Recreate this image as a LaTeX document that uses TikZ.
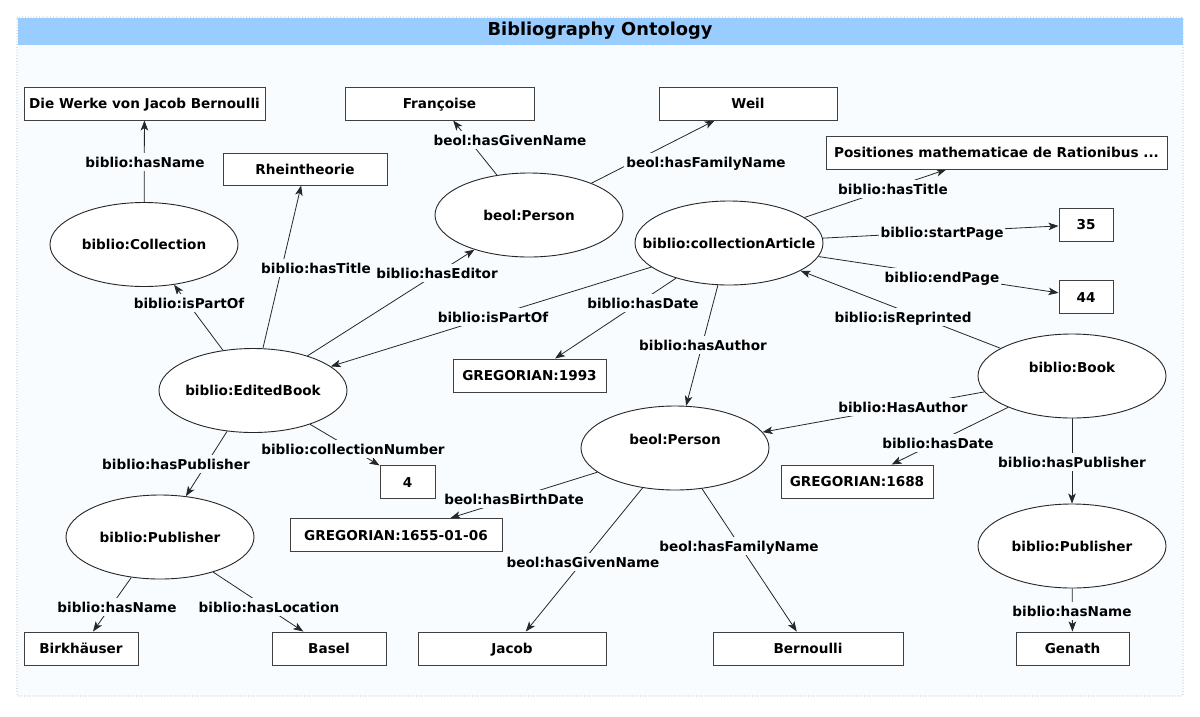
\documentclass[tikz,border=0pt]{standalone}
\usepackage{fontspec}
\setmainfont{DejaVu Sans}
\usepackage{tikz}
\usetikzlibrary{shapes.geometric,arrows.meta}
\pgfdeclarelayer{framelayer}
\pgfdeclarelayer{edgelayer}
\pgfdeclarelayer{nodelayer}
\pgfsetlayers{framelayer,edgelayer,nodelayer,main}
\definecolor{canvas}{RGB}{248,252,255}
\definecolor{titlebar}{RGB}{153,204,255}
\definecolor{wire}{RGB}{38,38,38}
\newcommand{\ontofont}{\bfseries\fontsize{13.6}{16}\selectfont}
\tikzstyle{concept}=[ellipse, draw=black!85, fill=white, line width=0.9pt, minimum width=188pt, minimum height=84pt, inner xsep=-45pt, inner ysep=0pt, text height=10pt, text depth=0pt, font=\ontofont]
\tikzstyle{raised}=[text depth=17pt]
\tikzstyle{literal}=[rectangle, draw=black!75, fill=white, line width=1pt, minimum height=33pt, inner sep=0pt, text height=10pt, text depth=0pt, font=\ontofont]
\tikzstyle{tag}=[fill=canvas, inner xsep=2pt, inner ysep=4pt, text height=10pt, text depth=0pt, font=\ontofont]
\tikzstyle{arrow}=[draw=wire, line width=0.8pt, -{Stealth[length=10pt,width=7.5pt,inset=2.5pt]}]

\begin{document}
\begin{tikzpicture}[x=1pt, y=-1pt]
            \useasboundingbox (0, 0) rectangle (1200, 716);
            \begin{pgfonlayer}{framelayer}
                \fill [white] (0, 0) rectangle (1200, 716);
                \filldraw [fill=canvas, draw=gray!70, line width=0.8pt, dotted, rounded corners=2pt] (17, 17) rectangle (1183, 696);
                \fill [titlebar] (17.5, 17.5) rectangle (1182.5, 45);
                \node [font=\bfseries\fontsize{17.8}{20}\selectfont] (Heading) at (600, 31) {Bibliography Ontology};
            \end{pgfonlayer}
            \begin{pgfonlayer}{nodelayer}
                \node [style=concept] (Coll) at (144, 244.5) {biblio:Collection};
                \node [style=concept] (Editor) at (529, 215) {beol:Person};
                \node [style=concept] (Article) at (729, 243) {biblio:collectionArticle};
                \node [style=concept] (Edited) at (253, 390.5) {biblio:EditedBook};
                \node [style=concept, raised] (Author) at (675, 448) {beol:Person};
                \node [style=concept, raised] (Book) at (1072, 376) {biblio:Book};
                \node [style=concept] (Pub1) at (160, 537) {biblio:Publisher};
                \node [style=concept] (Pub2) at (1072, 546) {biblio:Publisher};

                \node [style=literal, minimum width=241pt] (Werke) at (144.5, 103.5) {Die Werke von Jacob Bernoulli};
                \node [style=literal, minimum width=189pt] (Francoise) at (439.5, 103.5) {Françoise};
                \node [style=literal, minimum width=178pt] (Weil) at (748, 103.5) {Weil};
                \node [style=literal, minimum width=164pt, minimum height=32pt] (Rhein) at (305, 169) {Rheintheorie};
                \node [style=literal, minimum width=341pt] (Positiones) at (996.5, 152.5) {Positiones mathematicae de Rationibus ...};
                \node [style=literal, minimum width=54pt] (P35) at (1086, 224.5) {35};
                \node [style=literal, minimum width=54pt] (P44) at (1086, 297) {44};
                \node [style=literal, minimum width=153pt] (D1993) at (529.5, 375.5) {GREGORIAN:1993};
                \node [style=literal, minimum width=55pt] (Num4) at (407.5, 482) {4};
                \node [style=literal, minimum width=152pt] (D1688) at (857, 481.5) {GREGORIAN:1688};
                \node [style=literal, minimum width=212pt] (D1655) at (396, 535) {GREGORIAN:1655-01-06};
                \node [style=literal, minimum width=114pt] (Birk) at (81, 648.5) {Birkhäuser};
                \node [style=literal, minimum width=114pt] (Basel) at (329, 648.5) {Basel};
                \node [style=literal, minimum width=188pt] (Jacob) at (512, 648.5) {Jacob};
                \node [style=literal, minimum width=190pt] (Bern) at (808, 648.5) {Bernoulli};
                \node [style=literal, minimum width=113pt] (Genath) at (1072.5, 648.5) {Genath};
            \end{pgfonlayer}
            \begin{pgfonlayer}{edgelayer}
                \draw [style=arrow] (Coll) to (Werke) node [style=tag] at (145, 162) {biblio:hasName};
                \draw [style=arrow] (Edited) to (Coll) node [style=tag] at (189, 303) {biblio:isPartOf};
                \draw [style=arrow] (Edited) to (Rhein) node [style=tag] at (316, 268) {biblio:hasTitle};
                \draw [style=arrow] (Edited) to (Editor) node [style=tag] at (437, 273) {biblio:hasEditor};
                \draw [style=arrow] (Editor) to (Francoise) node [style=tag] at (510, 140) {beol:hasGivenName};
                \draw [style=arrow] (Editor) to (Weil) node [style=tag] at (706, 162) {beol:hasFamilyName};

                \draw [style=arrow] (Article) to (Positiones) node [style=tag] at (893, 189) {biblio:hasTitle};
                \draw [style=arrow] (Article) to (P35) node [style=tag] at (942, 232) {biblio:startPage};
                \draw [style=arrow] (Article) to (P44) node [style=tag] at (942, 277) {biblio:endPage};
                \draw [style=arrow] (Article) to (Edited) node [style=tag] at (493, 317) {biblio:isPartOf};
                \draw [style=arrow] (Article) to (D1993) node [style=tag] at (643, 303) {biblio:hasDate};
                \draw [style=arrow] (Article) to (Author) node [style=tag] at (703, 345) {biblio:hasAuthor};

                \draw [style=arrow] (Book) to (Article) node [style=tag] at (903, 317) {biblio:isReprinted};
                \draw [style=arrow] (Book) to (Author) node [style=tag] at (903, 407) {biblio:HasAuthor};
                \draw [style=arrow] (Book) to (D1688) node [style=tag] at (938, 443) {biblio:hasDate};
                \draw [style=arrow] (Book) to (Pub2) node [style=tag] at (1072, 462) {biblio:hasPublisher};
                \draw [style=arrow] (Pub2) to (Genath) node [style=tag] at (1072, 611) {biblio:hasName};

                \draw [style=arrow] (Edited) to (Pub1) node [style=tag] at (176, 464) {biblio:hasPublisher};
                \draw [style=arrow] (Edited) to (Num4) node [style=tag] at (353, 449) {biblio:collectionNumber};
                \draw [style=arrow] (Pub1) to (Birk) node [style=tag] at (117, 607) {biblio:hasName};
                \draw [style=arrow] (Pub1) to (Basel) node [style=tag] at (269, 607) {biblio:hasLocation};

                \draw [style=arrow] (Author) to (D1655) node [style=tag] at (514, 499) {beol:hasBirthDate};
                \draw [style=arrow] (Author) to (Jacob) node [style=tag] at (583, 562) {beol:hasGivenName};
                \draw [style=arrow] (Author) to (Bern) node [style=tag] at (739, 546) {beol:hasFamilyName};
            \end{pgfonlayer}
        \end{tikzpicture}
\end{document}
